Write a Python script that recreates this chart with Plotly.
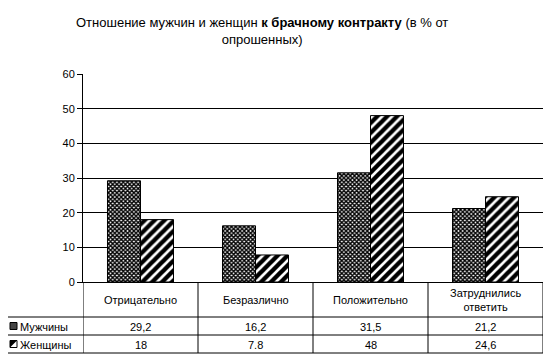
import plotly.graph_objects as go

categories = ["Отрицательно", "Безразлично", "Положительно", "Затруднились ответить"]
header_labels = ["Отрицательно", "Безразлично", "Положительно", "Затруднились<br>ответить"]
men = [29.2, 16.2, 31.5, 21.2]
women = [18, 7.8, 48, 24.6]
men_labels = ["29,2", "16,2", "31,5", "21,2"]
women_labels = ["18", "7.8", "48", "24,6"]
series_names = ["Мужчины", "Женщины"]
y_ticks = [0, 10, 20, 30, 40, 50, 60]

# page body has an 8px default margin; work in window pixels and offset
OFF = 8
W, H = 552 - 2 * OFF, 364 - 2 * OFF
PL, PR, PT, PB = 83, 543, 74, 282  # plot area in window pixels
ML, MT = PL - OFF, PT - OFF
MR = W - (PR - OFF)
MB = H - (PB - OFF)
PW, PH = PR - PL, PB - PT
FONT = "Arial, Liberation Sans, sans-serif"


def px(x):
    return (x - PL) / PW


def py(y):
    return (PB - y) / PH


fig = go.Figure()
fig.add_trace(go.Bar(
    x=categories, y=men, name=series_names[0],
    marker=dict(color="white", line=dict(color="black", width=1),
                pattern=dict(shape="x", size=3, solidity=0.7, fgcolor="black", bgcolor="white", fgopacity=1)),
))
fig.add_trace(go.Bar(
    x=categories, y=women, name=series_names[1],
    marker=dict(color="white", line=dict(color="black", width=1),
                pattern=dict(shape="/", size=7, solidity=0.62, fgcolor="black", bgcolor="white", fgopacity=1)),
))

shapes = []
annotations = []
ln = dict(color="black", width=1)
for yy in [317, 335, 353]:
    shapes.append(dict(type="line", xref="paper", yref="paper", x0=px(7.5), x1=1, y0=py(yy), y1=py(yy), line=ln))
shapes.append(dict(type="line", xref="paper", yref="paper", x0=px(7.5), x1=px(7.5), y0=py(317), y1=py(353), line=ln))
for i in range(len(categories) + 1):
    shapes.append(dict(type="line", xref="x", yref="paper", x0=i - 0.5, x1=i - 0.5, y0=0, y1=py(353), line=ln))

# legend keys
shapes.append(dict(type="rect", xref="paper", yref="paper", x0=px(10), x1=px(17), y0=py(322.5), y1=py(329.5),
                   line=ln, fillcolor="#444444"))
shapes.append(dict(type="rect", xref="paper", yref="paper", x0=px(10), x1=px(17), y0=py(340.5), y1=py(347.5),
                   line=ln, fillcolor="white"))
shapes.append(dict(type="path", xref="paper", yref="paper",
                   path=f"M {px(10)},{py(347.5)} L {px(17)},{py(340.5)} L {px(10)},{py(340.5)} Z",
                   line=dict(width=0), fillcolor="black"))

tf = dict(family=FONT, size=11, color="black")
for i, c in enumerate(categories):
    annotations.append(dict(x=c, y=py(299.5), xref="x", yref="paper", text=header_labels[i],
                            showarrow=False, font=tf, xanchor="center", yanchor="middle"))
    annotations.append(dict(x=c, y=py(326.5), xref="x", yref="paper", text=men_labels[i],
                            showarrow=False, font=tf, xanchor="center", yanchor="middle"))
    annotations.append(dict(x=c, y=py(344.5), xref="x", yref="paper", text=women_labels[i],
                            showarrow=False, font=tf, xanchor="center", yanchor="middle"))
annotations.append(dict(x=px(18), y=py(326.5), xref="paper", yref="paper", text=series_names[0],
                        showarrow=False, font=tf, xanchor="left", yanchor="middle"))
annotations.append(dict(x=px(18), y=py(344.5), xref="paper", yref="paper", text=series_names[1],
                        showarrow=False, font=tf, xanchor="left", yanchor="middle"))
annotations.append(dict(x=px(262), y=py(31), xref="paper", yref="paper",
                        text="Отношение мужчин и женщин <b>к брачному контракту</b> (в % от<br>опрошенных)",
                        showarrow=False, font=dict(family=FONT, size=13, color="black"),
                        xanchor="center", yanchor="middle"))

fig.update_layout(
    width=W, height=H,
    margin=dict(l=ML, r=MR, t=MT, b=MB, autoexpand=False),
    paper_bgcolor="white", plot_bgcolor="white",
    showlegend=False,
    barmode="group", bargap=0.426, bargroupgap=0,
    shapes=shapes, annotations=annotations,
    font=dict(family=FONT, size=11, color="black"),
    xaxis=dict(showticklabels=False, ticks="", showline=True, linecolor="black", linewidth=1,
               showgrid=False, range=[-0.5, 3.5], fixedrange=True),
    yaxis=dict(range=[0, 60], tickvals=y_ticks, showgrid=True, gridcolor="black", gridwidth=1,
               showline=True, linecolor="black", linewidth=1, ticks="outside", ticklen=5,
               tickcolor="black", zeroline=False, tickfont=dict(family=FONT, size=11, color="black")),
)

fig.write_html("out.html")
